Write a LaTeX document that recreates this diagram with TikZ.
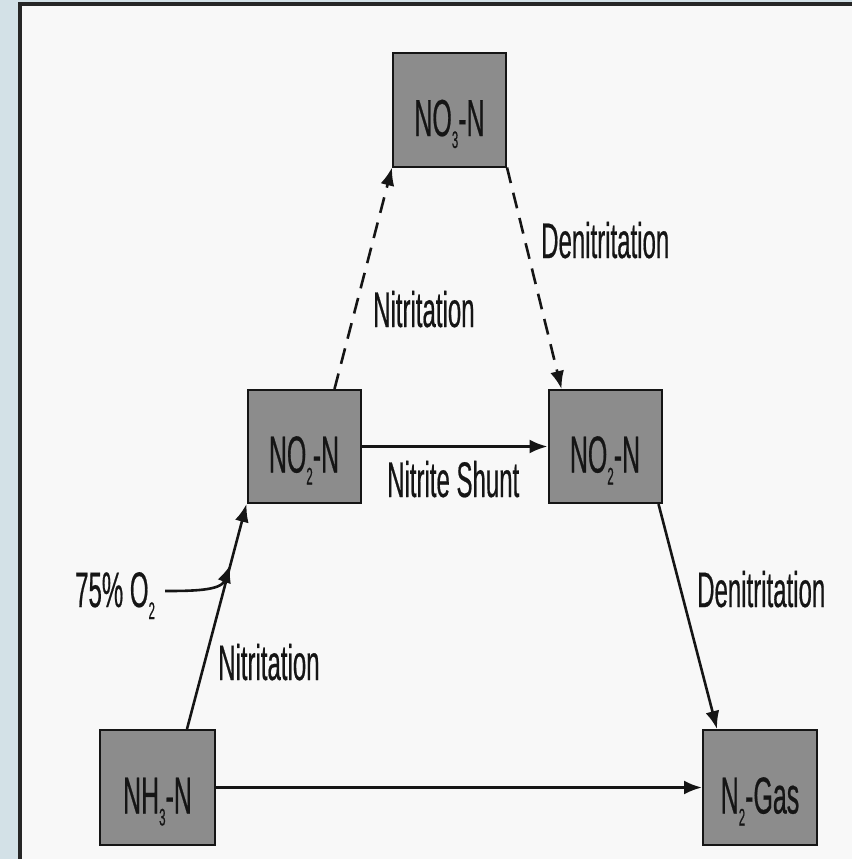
\documentclass[tikz,border=0pt]{standalone}
\usepackage{fontspec}
\setmainfont[FakeStretch=0.48,FakeBold=0.4]{Liberation Sans}
\usetikzlibrary{arrows.meta,calc}
\definecolor{bgblue}{HTML}{D3E1E7}
\definecolor{panel}{HTML}{F8F8F8}
\definecolor{boxgray}{HTML}{8C8C8C}
\definecolor{ink}{HTML}{151515}
\newcommand\lowsub[1]{\raisebox{-12pt}{\fontsize{24}{24}\selectfont #1}}
\begin{document}
\begin{tikzpicture}[x=1pt,y=-1pt,
  box/.style={draw=ink, line width=2pt, fill=boxgray, minimum width=113pt, minimum height=113pt,
    inner sep=0pt, text height=52pt, text depth=0pt, font=\fontsize{52}{52}\selectfont, text=ink},
  lbl/.style={font=\fontsize{50}{50}\selectfont, text=ink, inner sep=0pt, anchor=base west},
  arr/.style={line width=2.6pt, draw=ink, -{Latex[length=18pt,width=14pt]}},
  dsh/.style={arr, dash pattern=on 16pt off 10pt}]
\useasboundingbox (0,0) rectangle (852,859);
\fill[bgblue] (0,0) rectangle (852,859);
\fill[panel] (20,5) rectangle (852,859);
\draw[line width=4pt, black!85] (20,859) -- (20,4) -- (852,4);

\node[box] (no3) at (449.5,110) {NO\lowsub{3}-N};
\node[box] (no2l) at (304,446.5) {NO\lowsub{2}-N};
\node[box] (no2r) at (605,446.5) {NO\lowsub{2}-N};
\node[box, minimum width=115pt, minimum height=115pt] (nh3) at (157.5,787.5) {NH\lowsub{3}-N};
\node[box, minimum width=114pt, minimum height=115pt] (n2) at (760,787.5) {N\lowsub{2}-Gas};

\node[lbl] (ldn1) at (541,258) {Denitritation};
\node[lbl] (lnt1) at (373,327) {Nitritation};
\node[lbl] (lsh) at (387,497) {Nitrite Shunt};
\node[lbl] (ldn2) at (697,607) {Denitritation};
\node[lbl] (lo2) at (75,607) {75\% O\lowsub{2}};
\node[lbl] (lnt2) at (218,680) {Nitritation};

\coordinate (s1) at ($(nh3.north west)+(88,0)$);
\draw[arr] (s1) -- (no2l.south west);
\coordinate (j1) at ($(s1)!0.73!(no2l.south west)$);
\coordinate (o2s) at (165,591);
\draw[arr] (o2s) to[out=0, in=250] (j1);

\draw[dsh] ($(no2l.north west)+(88,0)$) -- (no3.south west);
\draw[dsh] (no3.south east) -- ($(no2r.north west)+(14,0)$);
\draw[arr] (no2l.east) -- (no2r.west);
\draw[arr] ($(no2r.south east)+(-4,0)$) -- ($(n2.north west)+(15,0)$);
\draw[arr] (nh3.east) -- (n2.west);
\end{tikzpicture}
\end{document}
